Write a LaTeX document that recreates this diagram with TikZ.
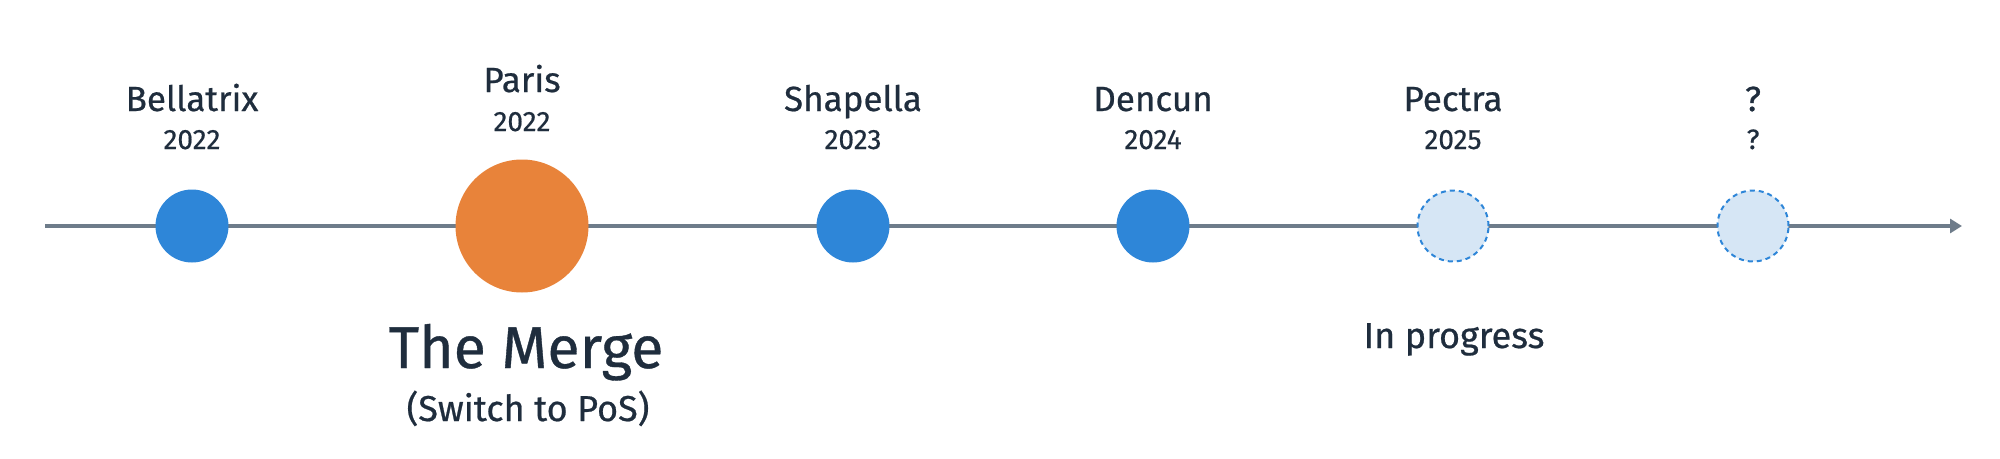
\documentclass[tikz,border=0pt]{standalone}
\usepackage{fontspec}
\setmainfont{Fira Sans}[FakeBold=0.6]
\usetikzlibrary{arrows.meta}
\definecolor{ink}{HTML}{1F2D3D}
\definecolor{axis}{HTML}{6E7C8A}
\definecolor{done}{HTML}{2E86D8}
\definecolor{merge}{HTML}{E8833A}
\definecolor{future}{HTML}{D6E6F5}
\tikzset{
  axisline/.style={draw=axis, line width=4pt, -{Triangle[length=12pt,width=14pt]}},
  donedot/.style={circle, fill=done, minimum size=73pt, inner sep=0pt},
  mergedot/.style={circle, fill=merge, minimum size=133pt, inner sep=0pt},
  futuredot/.style={circle, fill=future, draw=done, dashed, dash pattern=on 5pt off 4pt, line width=2pt, minimum size=71pt, inner sep=0pt},
  title/.style={anchor=base, text=ink, font=\fontsize{35}{38}\selectfont},
  year/.style={anchor=base, text=ink, font=\fontsize{28}{30}\selectfont},
  big/.style={anchor=base, text=ink, font=\fontsize{59}{64}\selectfont},
  sub/.style={anchor=base, text=ink, font=\fontsize{36}{40}\selectfont},
}
\begin{document}
\begin{tikzpicture}[x=1pt,y=-1pt]
\useasboundingbox (0,0) rectangle (2000,458);
\coordinate (start) at (45,226);
\coordinate (end) at (1962,226);
\draw[axisline] (start) -- (end);
\node[donedot] (bel) at (192,226) {};
\node[mergedot] (par) at (522,226) {};
\node[donedot] (sha) at (853,226) {};
\node[donedot] (den) at (1153,226) {};
\node[futuredot] (pec) at (1453,226) {};
\node[futuredot] (unk) at (1753,226) {};
\node[title] (belt) at (192,111) {Bellatrix};
\node[year] (bely) at (192,149) {2022};
\node[title] (part) at (522,92) {Paris};
\node[year] (pary) at (522,131) {2022};
\node[title] (shat) at (853,111) {Shapella};
\node[year] (shay) at (853,149) {2023};
\node[title] (dent) at (1153,111) {Dencun};
\node[year] (deny) at (1153,149) {2024};
\node[title] (pect) at (1453,111) {Pectra};
\node[year] (pecy) at (1453,149) {2025};
\node[title] (unkt) at (1753,111) {?};
\node[year] (unky) at (1753,149) {?};
\node[big] (merge) at (526,368) {The Merge};
\node[sub] (pos) at (528,421) {(Switch to PoS)};
\node[sub] (prog) at (1454,348) {In progress};
\end{tikzpicture}
\end{document}
